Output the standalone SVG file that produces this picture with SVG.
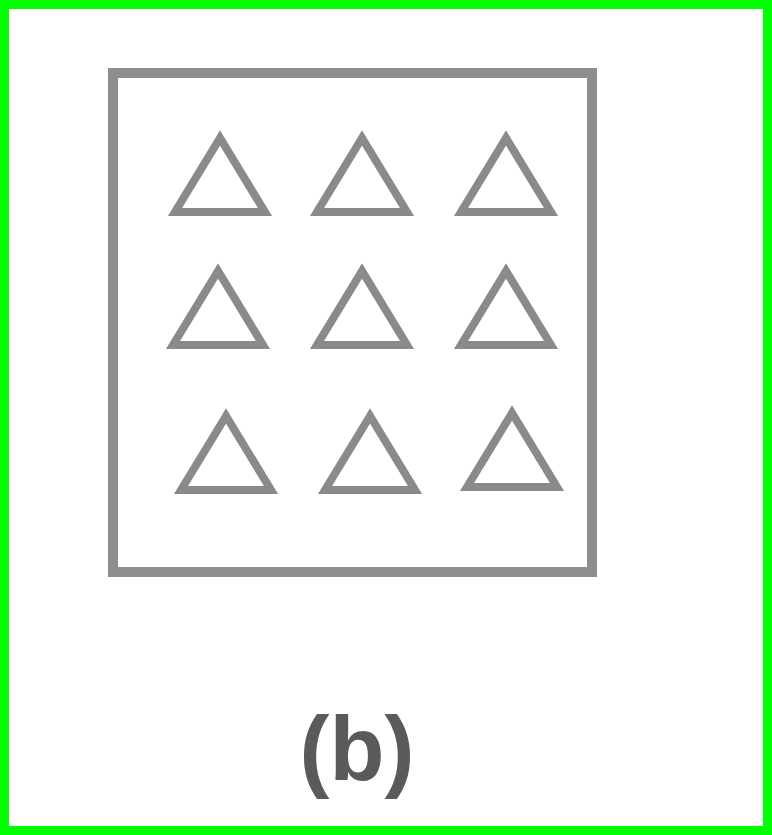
<svg xmlns="http://www.w3.org/2000/svg" width="772" height="835" viewBox="0 0 772 835">
  <style>
    .frame { fill: none; stroke: #00ff00; stroke-width: 9; }
    .box { fill: none; stroke: #8e8e8e; stroke-width: 10; }
    .tri { fill: none; stroke: #8a8a8a; stroke-width: 8; stroke-linejoin: miter; }
    .label { font-family: "Liberation Sans", Arial, sans-serif; font-weight: bold; font-size: 90px; fill: #5a5a5a; text-anchor: middle; }
  </style>
  <defs>
    <polygon id="t" points="0,0 -45,74 45,74"/>
  </defs>
  <rect width="772" height="835" fill="#ffffff"/>
  <rect class="frame" x="4.5" y="4.5" width="763" height="826"/>
  <g id="box">
    <rect class="box" x="113" y="73" width="479" height="499"/>
  </g>
  <g id="triangles">
    <g id="t1"><use href="#t" class="tri" x="220" y="138"/></g>
    <g id="t2"><use href="#t" class="tri" x="362" y="138"/></g>
    <g id="t3"><use href="#t" class="tri" x="506" y="138"/></g>
    <g id="t4"><use href="#t" class="tri" x="218" y="271"/></g>
    <g id="t5"><use href="#t" class="tri" x="362" y="271"/></g>
    <g id="t6"><use href="#t" class="tri" x="506" y="271"/></g>
    <g id="t7"><use href="#t" class="tri" x="226" y="416"/></g>
    <g id="t8"><use href="#t" class="tri" x="370" y="416"/></g>
    <g id="t9"><use href="#t" class="tri" x="512" y="413"/></g>
  </g>
  <g id="caption">
    <text class="label" x="357" y="780">(b)</text>
  </g>
</svg>
